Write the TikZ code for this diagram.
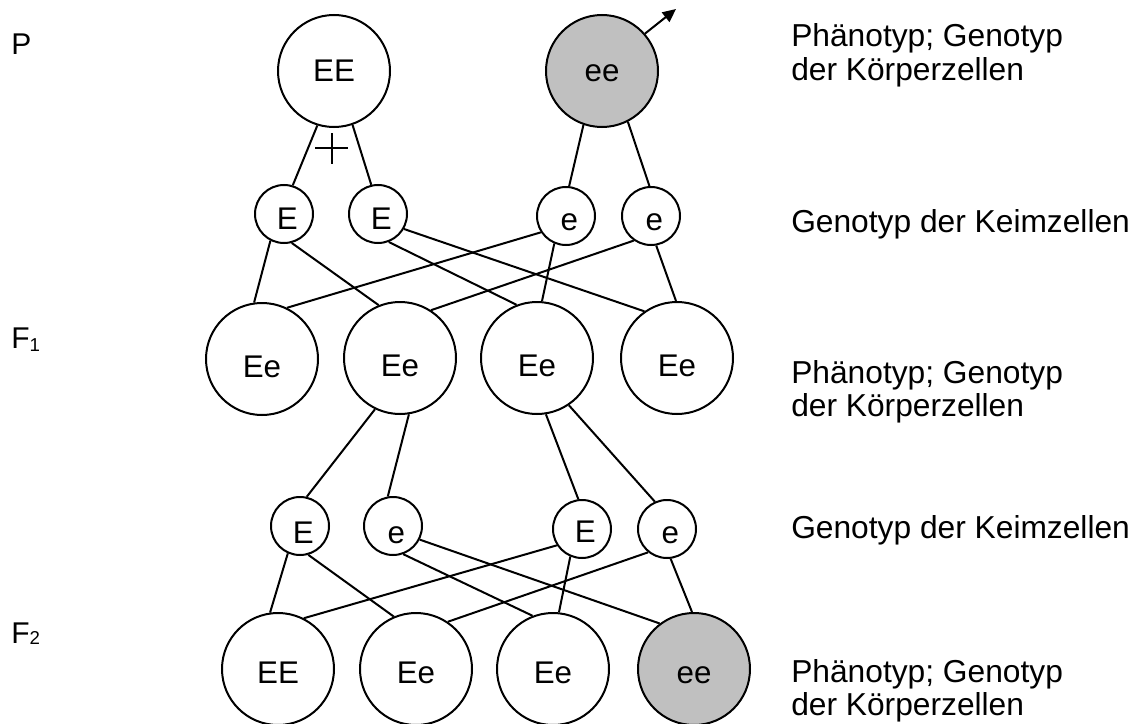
\documentclass[tikz,border=0pt]{standalone}
\usepackage{fontspec}
\setmainfont{Liberation Sans}
\usetikzlibrary{arrows.meta}
\definecolor{cellgray}{RGB}{192,192,192}
\begin{document}
\begin{tikzpicture}[x=0.75pt,y=-0.75pt,
  cellbase/.style={circle,draw,line width=1.5pt,inner sep=0pt,text depth=0pt,font=\fontsize{23.5}{26}\selectfont},
  big/.style={cellbase,minimum size=84pt},
  small/.style={cellbase,minimum size=43.5pt,execute at begin node={\hspace*{5pt}}},
  drop/.style={text height=#1pt},
  dark/.style={fill=cellgray},
  link/.style={line width=1.5pt},
  lbl/.style={anchor=base west,inner sep=0pt,font=\fontsize{23.8}{25}\selectfont},
  gen/.style={anchor=base west,inner sep=0pt,font=\fontsize{22.5}{25}\selectfont}]
\useasboundingbox (0,0) rectangle (1143,724);

% generation labels
\node[gen] (lp) at (11,55) {P};
\node[gen] (lf1) at (11,348) {F\raisebox{-0.12em}{\fontsize{14}{14}\selectfont 1}};
\node[gen] (lf2) at (11,643) {F\raisebox{-0.05em}{\fontsize{14}{14}\selectfont 2}};

% right labels
\node[lbl] (r1) at (791,47) {\begin{tabular}[t]{@{}l@{}}Phänotyp; Genotyp\\der Körperzellen\end{tabular}};
\node[lbl] (r2) at (791,232) {Genotyp der Keimzellen};
\node[lbl] (r3) at (791,383) {\begin{tabular}[t]{@{}l@{}}Phänotyp; Genotyp\\der Körperzellen\end{tabular}};
\node[lbl] (r4) at (791,538) {Genotyp der Keimzellen};
\node[lbl] (r5) at (791,682) {\begin{tabular}[t]{@{}l@{}}Phänotyp; Genotyp\\der Körperzellen\end{tabular}};

% P generation
\node[big,drop=16.5] (EEp) at (334,71) {EE};
\node[big,dark,drop=16.5] (eep) at (602,71) {ee};
\coordinate (tip) at (676,9);
\draw[link,-{Triangle[length=10pt,width=9pt]}] (eep.41.5) -- (tip);
\draw[line width=1.3pt] (315,148.3) -- (348.3,148.3) (331.7,133.3) -- (331.7,164);

% gametes of P
\node[small,drop=22.5] (g1a) at (284,214) {E};
\node[small,drop=22.5] (g1b) at (378,214) {E};
\node[small,drop=21] (g1c) at (566,216) {e};
\node[small,drop=21] (g1d) at (651,216) {e};

% F1
\node[big,drop=27] (f1a) at (262,359) {Ee};
\node[big,drop=27] (f1b) at (400,358) {Ee};
\node[big,drop=27] (f1c) at (537,358) {Ee};
\node[big,drop=27] (f1d) at (677,358) {Ee};

% gametes of F1
\node[small,drop=25.5] (g2a) at (300,526) {E};
\node[small,drop=25.5] (g2b) at (393,526) {e};
\node[small,drop=19.5] (g2c) at (582,529) {E};
\node[small,drop=21] (g2d) at (667,529) {e};

% F2
\node[big,drop=21] (f2a) at (278,669) {EE};
\node[big,drop=21] (f2b) at (416,669) {Ee};
\node[big,drop=21] (f2c) at (553,669) {Ee};
\node[big,dark,drop=21] (f2d) at (694,669) {ee};

% P -> gametes
\draw[link] (EEp.-107.5) -- (g1a.73.3);
\draw[link] (EEp.-71.6) -- (g1b.103.1);
\draw[link] (eep.-109) -- (g1c.84.1);
\draw[link] (eep.-63.4) -- (g1d.93.7);

% gametes -> F1
\draw[link] (g1a.-117.1) -- (f1a.98);
\draw[link] (g1a.-75.3) -- (f1b.112.8);
\draw[link] (g1b.-69.6) -- (f1c.111);
\draw[link] (g1b.-30.5) -- (f1d.125.5);
\draw[link] (g1c.-147.3) -- (f1a.64.5);
\draw[link] (g1c.-113.4) -- (f1c.85.3);
\draw[link] (g1d.-125.6) -- (f1b.57.8);
\draw[link] (g1d.-80.7) -- (f1d.91);

% F1 -> gametes
\draw[link] (f1b.-116.6) -- (g2a.77.3);
\draw[link] (f1b.-81.6) -- (g2b.100.9);
\draw[link] (f1c.-81.2) -- (g2c.97);
\draw[link] (f1c.-56.8) -- (g2d.114.8);

% gametes -> F2
\draw[link] (g2a.-114.6) -- (f2a.98.2);
\draw[link] (g2a.-74) -- (f2b.113.3);
\draw[link] (g2b.-70.4) -- (f2c.111.5);
\draw[link] (g2b.-27.1) -- (f2d.127.6);
\draw[link] (g2c.-147.8) -- (f2a.63.2);
\draw[link] (g2c.-113.4) -- (f2c.84.7);
\draw[link] (g2d.-129.9) -- (f2b.56.6);
\draw[link] (g2d.-83.8) -- (f2d.92.3);
\end{tikzpicture}
\end{document}
